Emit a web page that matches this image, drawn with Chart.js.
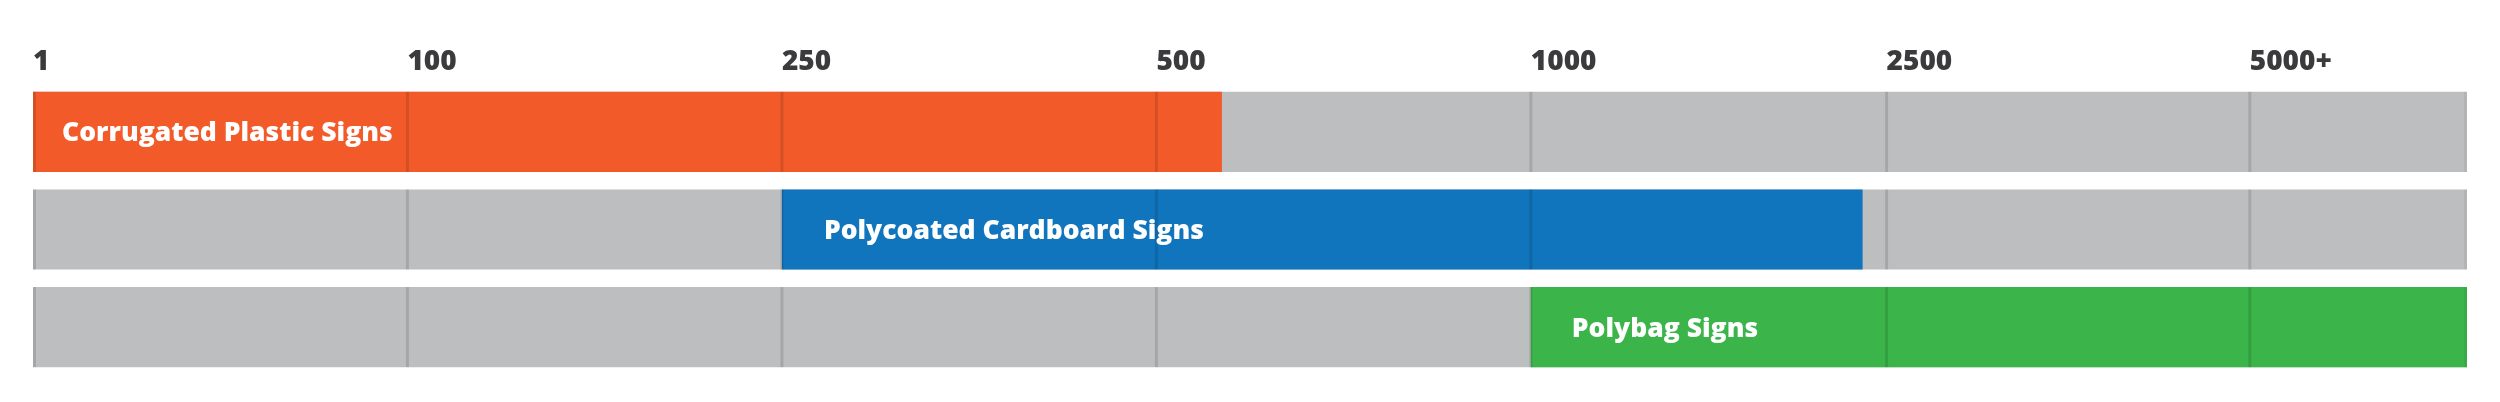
<!DOCTYPE html>
<html>
<head>
<meta charset="utf-8">
<script src="https://cdn.jsdelivr.net/npm/chart.js@4.4.1/dist/chart.umd.min.js"></script>
<style>
  html, body { margin: 0; padding: 0; background: #fff; }
  #wrap { width: 2500px; height: 402px; }
</style>
</head>
<body>
<div id="wrap"><canvas id="rangeChart"></canvas></div>
<script>
// quantity bands, one axis unit per band (last bands are a bit narrower)
const tickLabels = ['1', '100', '250', '500', '1000', '2500', '5000+'];
const tickPos = [0, 1, 2, 3, 4, 4.95, 5.92];
const axisMax = 6.5;

const products = ['Corrugated Plastic Signs', 'Polycoated Cardboard Signs', 'Polybag Signs'];
const rangeStart = [0, 2, 4];
const rangeEnd = [3.175, 4.886, 6.5];
const barColors = ['#f25a2a', '#1075bd', '#3bb54a'];

const FONT = "'Open Sans', sans-serif";

const bandLines = {
  id: 'bandLines',
  afterDatasetsDraw(chart) {
    const ctx = chart.ctx;
    const x = chart.scales.x;
    const meta = chart.getDatasetMeta(1); // grey full-width rows
    ctx.save();
    ctx.lineWidth = 3;
    meta.data.forEach(bar => {
      const top = bar.y - bar.height / 2;
      const bottom = bar.y + bar.height / 2;
      tickPos.concat([axisMax]).forEach((v, i) => {
        let px = x.getPixelForValue(v);
        if (i === 0) px += 1.5;
        if (v === axisMax) px -= 1.5;
        ctx.strokeStyle = v === axisMax ? 'rgba(0,0,0,0.05)' : 'rgba(0,0,0,0.12)';
        ctx.beginPath();
        ctx.moveTo(px, top);
        ctx.lineTo(px, bottom);
        ctx.stroke();
      });
    });

    // product names inside coloured bars
    const offsets = [29, 42, 41];
    ctx.fillStyle = '#ffffff';
    ctx.font = '800 26.5px ' + FONT;
    ctx.textBaseline = 'middle';
    ctx.textAlign = 'left';
    chart.getDatasetMeta(0).data.forEach((bar, i) => {
      ctx.fillText(products[i], x.getPixelForValue(rangeStart[i]) + offsets[i], bar.y + 2);
    });
    ctx.restore();
  }
};

new Chart(document.getElementById('rangeChart'), {
  type: 'bar',
  data: {
    labels: products,
    datasets: [{
      label: 'range',
      data: rangeStart.map((s, i) => [s, rangeEnd[i]]),
      backgroundColor: barColors,
      grouped: false,
      order: 0,
      barPercentage: 0.82,
      categoryPercentage: 1
    }, {
      label: 'full',
      data: products.map(() => [0, axisMax]),
      backgroundColor: '#bdbec0',
      grouped: false,
      order: 1,
      barPercentage: 0.82,
      categoryPercentage: 1
    }]
  },
  options: {
    indexAxis: 'y',
    responsive: true,
    maintainAspectRatio: false,
    animation: false,
    layout: { padding: { left: 33, right: 33, top: 0, bottom: 26 } },
    plugins: { legend: { display: false }, tooltip: { enabled: false } },
    scales: {
      x: {
        position: 'top',
        min: 0,
        max: axisMax,
        afterBuildTicks: (scale) => { scale.ticks = tickPos.map(v => ({ value: v })); },
        afterFit: (scale) => { scale.height = 83; },
        border: { display: false },
        grid: { display: false, drawTicks: false },
        ticks: {
          align: 'start',
          padding: 4,
          color: '#3b3b3d',
          font: { family: FONT, size: 28, weight: 800 },
          callback: (value, index) => tickLabels[index]
        }
      },
      y: {
        display: false
      }
    }
  },
  plugins: [bandLines]
});
</script>
</body>
</html>
